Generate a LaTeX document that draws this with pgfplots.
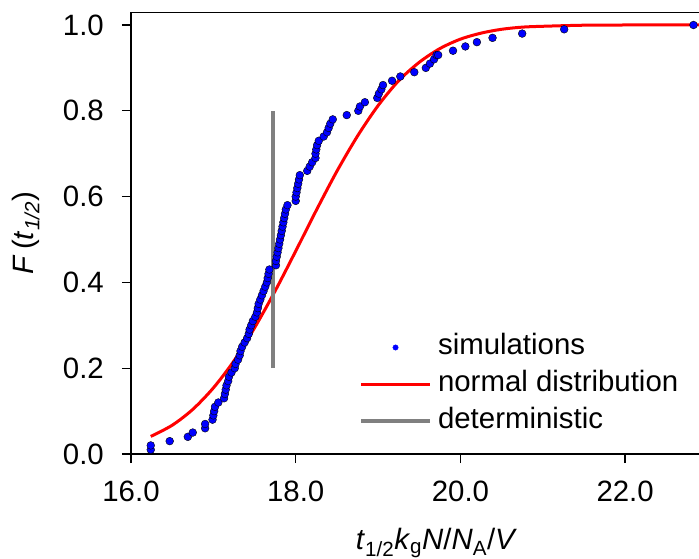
\documentclass[border=0pt]{standalone}
\usepackage{fontspec}
\setmainfont{Liberation Sans}
\usepackage{pgfplots}
\pgfplotsset{compat=1.18}
\newcommand{\fs}{\fontsize{29.4bp}{34bp}\selectfont}
\definecolor{simblue}{RGB}{0,0,255}
\definecolor{nred}{RGB}{255,0,0}
\definecolor{dgray}{RGB}{128,128,128}
\pgfplotstableread{
x y
16.24 0.01
16.24 0.02
16.47 0.03
16.69 0.04
16.75 0.05
16.90 0.06
16.90 0.07
16.99 0.08
17.00 0.09
17.01 0.10
17.02 0.11
17.06 0.12
17.13 0.13
17.14 0.14
17.15 0.15
17.16 0.16
17.18 0.17
17.19 0.18
17.22 0.19
17.26 0.20
17.27 0.21
17.30 0.22
17.32 0.23
17.33 0.24
17.35 0.25
17.38 0.26
17.41 0.27
17.43 0.28
17.44 0.29
17.46 0.30
17.48 0.31
17.51 0.32
17.53 0.33
17.54 0.34
17.55 0.35
17.57 0.36
17.59 0.37
17.61 0.38
17.63 0.39
17.65 0.40
17.66 0.41
17.67 0.42
17.68 0.43
17.76 0.44
17.76 0.45
17.77 0.46
17.78 0.47
17.79 0.48
17.80 0.49
17.81 0.50
17.82 0.51
17.83 0.52
17.84 0.53
17.85 0.54
17.86 0.55
17.87 0.56
17.88 0.57
17.90 0.58
18.00 0.59
18.00 0.60
18.01 0.61
18.02 0.62
18.03 0.63
18.04 0.64
18.05 0.65
18.14 0.66
18.17 0.67
18.20 0.68
18.24 0.69
18.24 0.70
18.25 0.71
18.26 0.72
18.28 0.73
18.34 0.74
18.38 0.75
18.40 0.76
18.42 0.77
18.45 0.78
18.62 0.79
18.76 0.80
18.78 0.81
18.84 0.82
18.99 0.83
19.01 0.84
19.04 0.85
19.06 0.86
19.17 0.87
19.27 0.88
19.44 0.89
19.58 0.90
19.63 0.91
19.68 0.92
19.71 0.93
19.73 0.93
19.91 0.94
20.06 0.95
20.20 0.96
20.39 0.97
20.75 0.98
21.26 0.99
22.83 1.00
}\simdata
\begin{document}
\begin{tikzpicture}
\begin{axis}[
  scale only axis, width=568bp, height=441.7bp,
  xmin=16, xmax=22.897, ymin=0, ymax=1.0296,
  clip=false,
  axis x line*=box, axis y line*=left,
  axis line style={-, line width=1.3bp, black},
  x axis line style={-}, y axis line style={-},
  xtick={16,18,20,22}, ytick={0,0.2,0.4,0.6,0.8,1.0},
  xtick pos=bottom, ytick pos=left,
  tick align=outside, major tick length=9bp, minor tick num=0,
  every tick/.style={black, line width=1.3bp},
  /pgf/number format/assume math mode=true,
  xticklabel style={font=\fs, anchor=north, inner sep=0pt, yshift=-18bp,
    /pgf/number format/.cd, fixed, fixed zerofill, precision=1},
  yticklabel style={font=\fs, anchor=east, inner sep=0pt, xshift=-18bp,
    /pgf/number format/.cd, fixed, fixed zerofill, precision=1},
  xlabel={\textit{t}\textsubscript{1/2}\textit{k}\textsubscript{g}\textit{N}/\textit{N}\textsubscript{A}/\textit{V}},
  ylabel={\textit{F}\,(\textit{t}\textsubscript{\textit{1/2}})},
  xlabel style={font=\fs, at={(axis description cs:0.5379,-0.2173)}, anchor=base},
  ylabel style={font=\fs, at={(axis description cs:-0.1725,0.5)}, anchor=base},
  legend style={draw=none, fill=none, at={(axis description cs:0.4015,0.2717)}, anchor=north west,
    font=\fs, inner sep=0pt, outer sep=0pt, row sep=9.7bp, column sep=6bp,
    nodes={inner sep=0pt, text height=21bp, text depth=6bp}},
  legend cell align=left,
]
\addplot[only marks, mark=*, mark size=3.9bp, mark options={fill=simblue, draw=none},
  legend image code/.code={\fill[simblue] (34.5bp,0bp) circle (2.7bp);}] table {\simdata};
\addlegendentry{simulations}
\addplot[nred, line width=3bp, smooth,
  legend image code/.code={\draw[nred, line width=3bp] (0bp,0bp) -- (69bp,0bp);}] coordinates {
(16.24,0.041)(16.5,0.067)(16.75,0.104)(17.0,0.154)(17.25,0.217)(17.5,0.294)(17.75,0.380)(18.0,0.473)(18.25,0.568)(18.5,0.659)(18.75,0.741)(19.0,0.812)(19.25,0.870)(19.5,0.913)(19.75,0.945)(20.0,0.967)(20.25,0.981)(20.5,0.990)(20.75,0.995)(21.0,0.997)(21.5,0.9995)(22.0,1.0)(22.897,1.0)};
\addlegendentry{normal distribution}
\addplot[dgray, line width=4bp,
  legend image code/.code={\draw[dgray, line width=4bp] (0bp,0bp) -- (69bp,0bp);}] coordinates {(17.72,0.2)(17.72,0.8)};
\addlegendentry{deterministic}
\coordinate (SW) at (rel axis cs:0,0);
\end{axis}
\pgfresetboundingbox
\path[use as bounding box] ([shift={(-131bp,-105bp)}]SW) rectangle ([shift={(568bp,454bp)}]SW);
\end{tikzpicture}
\end{document}
